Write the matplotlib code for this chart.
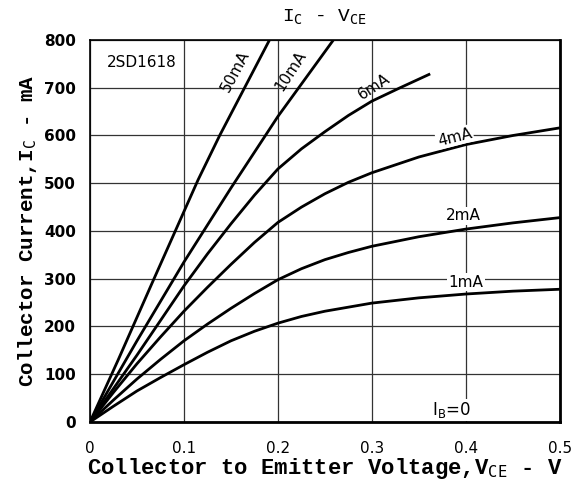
import matplotlib.pyplot as plt
import numpy as np

# Ic - Vce curves (2SD1618)
v_1ma = [0, 0.025, 0.05, 0.075, 0.1, 0.125, 0.15, 0.175, 0.2, 0.225, 0.25, 0.3, 0.35, 0.4, 0.45, 0.5]
i_1ma = [0, 33, 65, 93, 120, 146, 170, 190, 207, 221, 232, 249, 260, 268, 274, 278]
v_2ma = [0, 0.025, 0.05, 0.075, 0.1, 0.125, 0.15, 0.175, 0.2, 0.225, 0.25, 0.275, 0.3, 0.35, 0.4, 0.45, 0.5]
i_2ma = [0, 46, 90, 131, 170, 205, 238, 269, 298, 321, 340, 355, 368, 388, 404, 417, 428]
v_4ma = [0, 0.025, 0.05, 0.075, 0.1, 0.125, 0.15, 0.175, 0.2, 0.225, 0.25, 0.275, 0.3, 0.35, 0.4, 0.45, 0.5]
i_4ma = [0, 62, 122, 178, 232, 282, 330, 376, 418, 450, 478, 502, 522, 555, 581, 600, 616]
v_6ma = [0, 0.05, 0.1, 0.125, 0.15, 0.175, 0.2, 0.225, 0.25, 0.275, 0.3, 0.33, 0.362]
i_6ma = [0, 140, 285, 352, 415, 475, 530, 572, 608, 642, 672, 700, 729]
v_10ma = [0, 0.05, 0.1, 0.15, 0.2, 0.259]
i_10ma = [0, 170, 335, 490, 640, 800]
v_50ma = [0, 0.03, 0.067, 0.115, 0.138, 0.191]
i_50ma = [0, 130, 295, 507, 600, 800]

xticks = [0, 0.1, 0.2, 0.3, 0.4, 0.5]
xlabels = ["0", "0.1", "0.2", "0.3", "0.4", "0.5"]
yticks = [0, 100, 200, 300, 400, 500, 600, 700, 800]

mono = "Liberation Mono"
plt.rcParams['mathtext.fontset'] = 'dejavusans'

fig = plt.figure(figsize=(5.79, 4.86), dpi=100)
ax = fig.add_axes([0.1554, 0.1317, 0.8116, 0.786])

for v, i in [(v_1ma, i_1ma), (v_2ma, i_2ma), (v_4ma, i_4ma),
             (v_6ma, i_6ma), (v_10ma, i_10ma), (v_50ma, i_50ma)]:
    ax.plot(v, i, color='black', lw=2.0, solid_capstyle='butt',
            solid_joinstyle='round', zorder=3)

ax.set_xlim(0, 0.5)
ax.set_ylim(0, 800)
ax.set_xticks(xticks)
ax.set_xticklabels(xlabels)
ax.set_yticks(yticks)
ax.tick_params(axis='y', length=0, pad=10, labelsize=11)
ax.tick_params(axis='x', length=0, pad=14, labelsize=11)
for t in ax.get_yticklabels():
    t.set_fontweight('bold')
ax.grid(color='#333333', lw=0.9)
for s in ax.spines.values():
    s.set_linewidth(1.2)
ax.spines['bottom'].set_linewidth(2)
ax.spines['right'].set_linewidth(2)

box = dict(facecolor='white', edgecolor='none', pad=1)
ax.text(0.055, 752, "2SD1618", ha='center', va='center', fontsize=11, bbox=box)
ax.text(0.155, 735, "50mA", ha='center', va='center', fontsize=11, rotation=62, zorder=4)
ax.text(0.213, 735, "10mA", ha='center', va='center', fontsize=11, rotation=57, zorder=4)
ax.text(0.302, 702, "6mA", ha='center', va='center', fontsize=11, rotation=33, zorder=4)
ax.text(0.388, 597, "4mA", ha='center', va='center', fontsize=11, rotation=14, zorder=4, bbox=box)
ax.text(0.397, 432, "2mA", ha='center', va='center', fontsize=11, zorder=4, bbox=box)
ax.text(0.400, 293, "1mA", ha='center', va='center', fontsize=11, zorder=4, bbox=box)
ax.text(0.385, 25, "I$_\\mathrm{B}$=0", ha='center', va='center', fontsize=12, bbox=box)

fig.text(0.56, 0.965, "I$_\\mathtt{C}$ - V$_\\mathtt{CE}$", ha='center', va='center',
         fontsize=14, family=mono)
ax.set_ylabel("Collector Current,I$_\\mathtt{C}$ - mA", family=mono, fontsize=15,
              fontweight='bold', labelpad=4)
ax.set_xlabel("Collector to Emitter Voltage,V$_\\mathtt{CE}$ - V", family=mono,
              fontsize=16, fontweight='bold', labelpad=0)

fig.savefig("out.png", dpi=100)
